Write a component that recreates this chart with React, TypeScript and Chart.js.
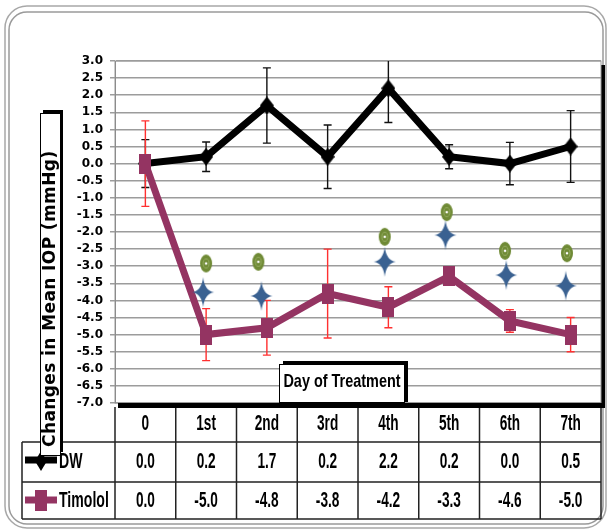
import React, { useEffect, useRef } from "react";
import { Chart, registerables } from "chart.js";

Chart.register(...registerables);

// ---- data ----
const days = ["0", "1st", "2nd", "3rd", "4th", "5th", "6th", "7th"];
const seriesNames = ["DW", "Timolol"];
const dwValues = [0.0, 0.2, 1.7, 0.2, 2.2, 0.2, 0.0, 0.5];
const dwErrors = [0.7, 0.43, 1.1, 0.93, 1.0, 0.35, 0.62, 1.05];
const timololValues = [0.0, -5.0, -4.8, -3.8, -4.2, -3.3, -4.6, -5.0];
const timololErrors = [1.25, 0.76, 0.8, 1.3, 0.6, 0.2, 0.33, 0.5];
const circleX = [1.0, 1.86, 3.94, 4.96, 5.92, 6.94];
const circleY = [-2.92, -2.87, -2.14, -1.42, -2.55, -2.62];
const starX = [0.95, 1.91, 3.94, 4.94, 5.94, 6.92];
const starY = [-3.76, -3.87, -2.87, -2.09, -3.26, -3.57];
const yTitle = "Changes in Mean IOP (mmHg)";
const xTitle = "Day of Treatment";

const MAROON = "#943462";
const NARROW = '"Liberation Sans", Arial, sans-serif';

function makeCircle() {
  const c = document.createElement("canvas");
  c.width = 14;
  c.height = 20;
  const g = c.getContext("2d")!;
  g.fillStyle = "#6f8a35";
  g.beginPath();
  g.ellipse(7, 10, 6, 9, 0, 0, Math.PI * 2);
  g.fill();
  g.strokeStyle = "#96ad62";
  g.lineWidth = 1;
  g.beginPath();
  g.ellipse(7, 10, 3, 4.5, 0, 0, Math.PI * 2);
  g.stroke();
  g.fillStyle = "#ffffff";
  g.beginPath();
  g.arc(7, 10, 1.3, 0, Math.PI * 2);
  g.fill();
  return c;
}

function makeStar() {
  const c = document.createElement("canvas");
  c.width = 24;
  c.height = 32;
  const g = c.getContext("2d")!;
  const cx = 12,
    cy = 16;
  g.fillStyle = "#3A6191";
  g.beginPath();
  g.moveTo(cx, 1);
  g.quadraticCurveTo(cx + 1.5, cy - 1.5, 23, cy);
  g.quadraticCurveTo(cx + 1.5, cy + 1.5, cx, 31);
  g.quadraticCurveTo(cx - 1.5, cy + 1.5, 1, cy);
  g.quadraticCurveTo(cx - 1.5, cy - 1.5, cx, 1);
  g.fill();
  return c;
}

function makeSquare() {
  const c = document.createElement("canvas");
  c.width = 12;
  c.height = 20;
  const g = c.getContext("2d")!;
  g.fillStyle = MAROON;
  g.fillRect(0, 0, 12, 20);
  return c;
}

function makeDiamond() {
  const c = document.createElement("canvas");
  c.width = 14;
  c.height = 18;
  const g = c.getContext("2d")!;
  g.fillStyle = "#000";
  g.beginPath();
  g.moveTo(7, 0);
  g.lineTo(14, 9);
  g.lineTo(7, 18);
  g.lineTo(0, 9);
  g.closePath();
  g.fill();
  return c;
}

function narrowText(
  ctx: CanvasRenderingContext2D,
  text: string,
  x: number,
  y: number,
  size: number,
  sx: number,
  align: CanvasTextAlign = "center"
) {
  ctx.save();
  ctx.translate(x, y);
  ctx.scale(sx, 1);
  ctx.font = `bold ${size}px ${NARROW}`;
  ctx.fillStyle = "#000";
  ctx.textAlign = align;
  ctx.textBaseline = "middle";
  ctx.fillText(text, 0, 0);
  ctx.restore();
}

const decorPlugin = {
  id: "decor",
  beforeDraw(chart: any) {
    const ctx: CanvasRenderingContext2D = chart.ctx;
    const a = chart.chartArea;
    ctx.save();
    ctx.fillStyle = "#fff";
    ctx.fillRect(0, 0, chart.width, chart.height);
    // outer frame
    ctx.strokeStyle = "#a8a8a8";
    ctx.lineWidth = 1.5;
    ctx.beginPath();
    (ctx as any).roundRect(5, 6, 601, 522, 22);
    ctx.stroke();
    ctx.strokeStyle = "#9a9a9a";
    ctx.beginPath();
    (ctx as any).roundRect(9, 12, 594, 512, 18);
    ctx.stroke();
    // plot area shadow + fill
    ctx.fillStyle = "#000";
    ctx.fillRect(a.left + 3, a.top + 4, a.right - a.left + 1, a.bottom - a.top + 1);
    ctx.fillStyle = "#fff";
    ctx.fillRect(a.left, a.top, a.right - a.left, a.bottom - a.top);
    ctx.strokeStyle = "#9a9a9a";
    ctx.lineWidth = 1;
    ctx.strokeRect(a.left, a.top, a.right - a.left, a.bottom - a.top);
    ctx.restore();
  },
  beforeDatasetsDraw(chart: any) {
    const ctx: CanvasRenderingContext2D = chart.ctx;
    const a = chart.chartArea;
    const xs = chart.scales.x;
    const ys = chart.scales.y;
    ctx.save();
    ctx.beginPath();
    ctx.rect(a.left, a.top, a.right - a.left, a.bottom - a.top);
    ctx.clip();
    const draw = (vals: number[], errs: number[], color: string) => {
      ctx.strokeStyle = color;
      ctx.lineWidth = 1.4;
      ctx.beginPath();
      vals.forEach((v, i) => {
        const px = xs.getPixelForValue(i);
        const t = ys.getPixelForValue(v + errs[i]);
        const b = ys.getPixelForValue(v - errs[i]);
        ctx.moveTo(px, t);
        ctx.lineTo(px, b);
        ctx.moveTo(px - 4, t);
        ctx.lineTo(px + 4, t);
        ctx.moveTo(px - 4, b);
        ctx.lineTo(px + 4, b);
      });
      ctx.stroke();
    };
    draw(dwValues, dwErrors, "#111");
    draw(timololValues, timololErrors, "#ff3030");
    ctx.restore();
  },
  afterDraw(chart: any) {
    const ctx: CanvasRenderingContext2D = chart.ctx;
    const a = chart.chartArea;
    const xs = chart.scales.x;
    ctx.save();
    // ---- data table ----
    const hTop = a.bottom;
    const r1 = 442;
    const r2 = 482;
    const r3 = 519;
    const tLeft = 22;
    ctx.strokeStyle = "#222";
    ctx.lineWidth = 1.5;
    ctx.beginPath();
    [r1, r2, r3].forEach((yy) => {
      ctx.moveTo(tLeft, yy);
      ctx.lineTo(a.right, yy);
    });
    ctx.moveTo(tLeft, r1);
    ctx.lineTo(tLeft, r3);
    for (let i = 0; i <= days.length; i++) {
      const px = i === 0 ? a.left : i === days.length ? a.right : xs.getPixelForValue(i - 0.5);
      ctx.moveTo(px, hTop + 4);
      ctx.lineTo(px, r3);
    }
    ctx.stroke();
    // re-draw bottom shadow over header lines
    ctx.fillStyle = "#000";
    ctx.fillRect(a.left + 3, a.bottom, a.right - a.left + 1, 5);

    days.forEach((d, i) => {
      const px = xs.getPixelForValue(i);
      narrowText(ctx, d, px, 424, 22, 0.62);
      narrowText(ctx, dwValues[i].toFixed(1), px, 462, 22, 0.62);
      narrowText(ctx, timololValues[i].toFixed(1), px, 501, 22, 0.62);
    });
    narrowText(ctx, seriesNames[0], 59, 462, 22, 0.64, "left");
    narrowText(ctx, seriesNames[1], 59, 501, 22, 0.64, "left");

    // legend keys
    ctx.strokeStyle = "#000";
    ctx.lineWidth = 7;
    ctx.beginPath();
    ctx.moveTo(25, 460);
    ctx.lineTo(57, 460);
    ctx.stroke();
    ctx.fillStyle = "#000";
    ctx.beginPath();
    ctx.moveTo(41, 451);
    ctx.lineTo(47, 461);
    ctx.lineTo(41, 471);
    ctx.lineTo(35, 461);
    ctx.closePath();
    ctx.fill();
    ctx.strokeStyle = MAROON;
    ctx.beginPath();
    ctx.moveTo(25, 500);
    ctx.lineTo(57, 500);
    ctx.stroke();
    ctx.fillStyle = MAROON;
    ctx.fillRect(35, 490, 12, 21);

    // ---- y title box ----
    ctx.fillStyle = "#000";
    ctx.fillRect(43, 110, 20, 342);
    ctx.fillStyle = "#fff";
    ctx.fillRect(40, 113, 20, 342);
    ctx.strokeStyle = "#000";
    ctx.lineWidth = 1;
    ctx.strokeRect(40.5, 113.5, 20, 342);
    ctx.save();
    ctx.translate(55, 447);
    ctx.rotate(-Math.PI / 2);
    ctx.font = 'bold 17px "DejaVu Sans", sans-serif';
    (ctx as any).letterSpacing = "0.4px";
    ctx.fillStyle = "#000";
    ctx.textAlign = "left";
    ctx.textBaseline = "alphabetic";
    ctx.fillText(yTitle, 0, 0);
    ctx.restore();

    // ---- x title box ----
    ctx.fillStyle = "#000";
    ctx.fillRect(283, 361, 125, 41);
    ctx.fillStyle = "#fff";
    ctx.fillRect(279, 364, 125, 38);
    ctx.strokeStyle = "#000";
    ctx.lineWidth = 1;
    ctx.strokeRect(279.5, 364.5, 125, 38);
    narrowText(ctx, xTitle, 342, 382, 19, 0.76);
    ctx.restore();
  },
};

export default function App() {
  const ref = useRef<HTMLCanvasElement>(null);
  useEffect(() => {
    const canvas = ref.current!;
    const chart = new Chart(canvas, {
      type: "line",
      data: {
        datasets: [
          {
            label: "sig1",
            data: circleX.map((x, i) => ({ x, y: circleY[i] })),
            showLine: false,
            pointStyle: makeCircle() as any,
            pointRadius: 8,
          },
          {
            label: "sig2",
            data: starX.map((x, i) => ({ x, y: starY[i] })),
            showLine: false,
            pointStyle: makeStar() as any,
            pointRadius: 10,
          },
          {
            label: seriesNames[1],
            data: timololValues.map((y, i) => ({ x: i, y })),
            borderColor: MAROON,
            backgroundColor: MAROON,
            borderWidth: 7,
            borderJoinStyle: "miter",
            tension: 0,
            pointStyle: makeSquare() as any,
            pointRadius: 10,
          },
          {
            label: seriesNames[0],
            data: dwValues.map((y, i) => ({ x: i, y })),
            borderColor: "#000",
            backgroundColor: "#000",
            borderWidth: 7,
            borderJoinStyle: "miter",
            tension: 0,
            pointStyle: makeDiamond() as any,
            pointRadius: 9,
          },
        ],
      } as any,
      options: {
        animation: false,
        responsive: false,
        events: [],
        layout: { autoPadding: false, padding: { left: 0, right: 7, top: 61, bottom: 127 } },
        plugins: {
          legend: { display: false },
          tooltip: { enabled: false },
        },
        scales: {
          x: { type: "linear", display: false, min: -0.5, max: 7.5 },
          y: {
            min: -7,
            max: 3,
            afterFit: (s: any) => {
              s.width = 115;
            },
            ticks: {
              stepSize: 0.5,
              autoSkip: false,
              color: "#000",
              padding: 7,
              font: { family: "DejaVu Sans", weight: "bold", size: 12 },
              callback: (v: any) => Number(v).toFixed(1),
            },
            grid: { color: "#9c9c9c", lineWidth: 1.5, tickLength: 5, drawTicks: true },
            border: { color: "#8c8c8c", width: 1 },
          },
        },
      } as any,
      plugins: [decorPlugin],
    });
    return () => chart.destroy();
  }, []);
  return (
    <div style={{ position: "absolute", left: 0, top: 0, width: 608, height: 530 }}>
      <canvas ref={ref} width={608} height={530} style={{ display: "block", width: 608, height: 530 }} />
    </div>
  );
}
